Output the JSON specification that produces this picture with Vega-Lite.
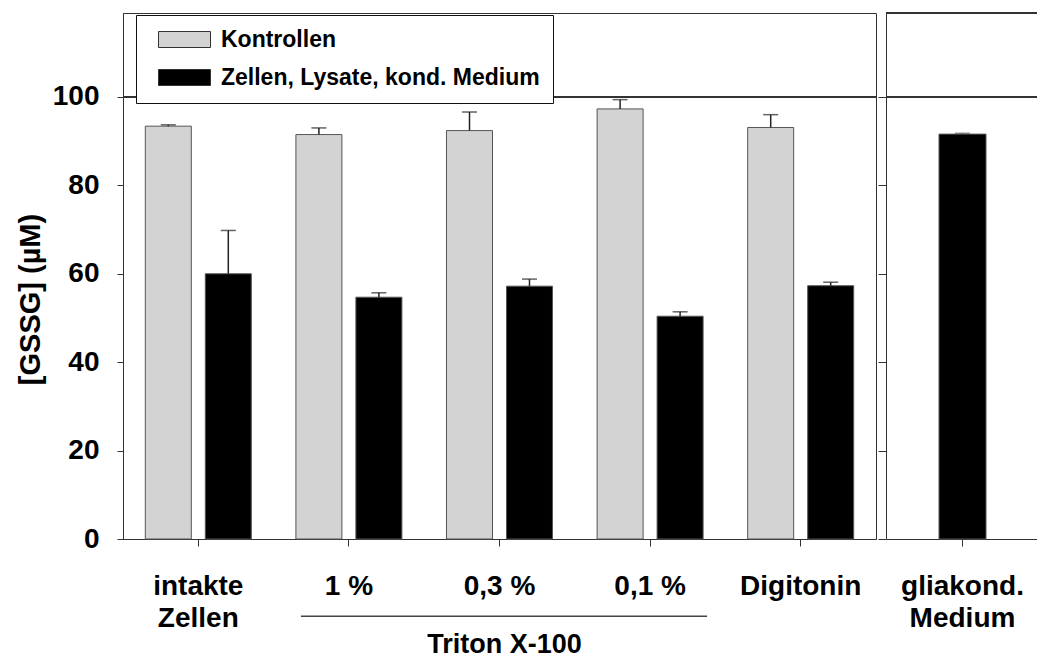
{
  "$schema": "https://vega.github.io/schema/vega-lite/v6.json",
  "padding": {"left": 16, "top": 12, "right": -3, "bottom": 0},
  "spacing": 0,
  "datasets": {
    "bars": [
      {"group": "intakte Zellen", "series": "Kontrollen", "value": 93.4, "upper": 93.7},
      {"group": "intakte Zellen", "series": "Zellen, Lysate, kond. Medium", "value": 60.0, "upper": 69.8},
      {"group": "1 %", "series": "Kontrollen", "value": 91.5, "upper": 93.0},
      {"group": "1 %", "series": "Zellen, Lysate, kond. Medium", "value": 54.7, "upper": 55.7},
      {"group": "0,3 %", "series": "Kontrollen", "value": 92.4, "upper": 96.6},
      {"group": "0,3 %", "series": "Zellen, Lysate, kond. Medium", "value": 57.2, "upper": 58.8},
      {"group": "0,1 %", "series": "Kontrollen", "value": 97.3, "upper": 99.4},
      {"group": "0,1 %", "series": "Zellen, Lysate, kond. Medium", "value": 50.4, "upper": 51.4},
      {"group": "Digitonin", "series": "Kontrollen", "value": 93.1, "upper": 96.0},
      {"group": "Digitonin", "series": "Zellen, Lysate, kond. Medium", "value": 57.3, "upper": 58.1},
      {"group": "gliakond. Medium", "series": "Zellen, Lysate, kond. Medium", "value": 91.6, "upper": 91.8}
    ],
    "bracket": [
      {"label": "Triton X-100", "from": "1 %", "to": "0,1 %", "mid": "0,3 %"}
    ]
  },
  "config": {
    "font": "Liberation Sans",
    "view": {"stroke": "#333", "strokeWidth": 1},
    "axis": {
      "labelFont": "Liberation Sans", "labelFontWeight": "bold", "labelColor": "black",
      "titleFont": "Liberation Sans", "titleFontWeight": "bold", "titleColor": "black",
      "domainColor": "#333", "tickColor": "#333", "grid": false
    }
  },
  "resolve": {"scale": {"color": "independent"}, "legend": {"color": "independent"}},
  "hconcat": [
    {
      "width": 753,
      "height": 526,
      "layer": [
        {
          "data": {"name": "bars"},
          "mark": {"type": "rule", "color": "#333", "strokeWidth": 1},
          "encoding": {"y": {"datum": 100, "type": "quantitative", "scale": {"domain": [0, 119], "nice": false}}}
        },
        {
          "data": {"name": "bars"},
          "transform": [{"filter": "datum.group != 'gliakond. Medium'"}],
          "mark": {"type": "bar", "stroke": "#555", "strokeWidth": 1},
          "encoding": {
            "x": {
              "field": "group", "type": "nominal",
              "scale": {"type": "band", "domain": ["intakte Zellen", "1 %", "0,3 %", "0,1 %", "Digitonin"], "paddingInner": 0, "paddingOuter": 0},
              "axis": {
                "title": null, "labelAngle": 0, "labelFontSize": 28, "labelLineHeight": 32,
                "tickSize": 7, "labelPadding": 26, "labelBaseline": "top", "bandPosition": 0.5,
                "labelExpr": "datum.value == 'intakte Zellen' ? ['intakte', 'Zellen'] : datum.label"
              }
            },
            "xOffset": {
              "field": "series", "type": "nominal",
              "scale": {"type": "band", "domain": ["Kontrollen", "Zellen, Lysate, kond. Medium"], "paddingInner": 0.2333, "paddingOuter": 0.3717}
            },
            "y": {
              "field": "value", "type": "quantitative",
              "scale": {"domain": [0, 119], "nice": false},
              "axis": {
                "values": [0, 20, 40, 60, 80, 100], "tickSize": 6, "labelFontSize": 28, "labelPadding": 18,
                "title": "[GSSG] (µM)", "titleFontSize": 29, "titleAngle": -90, "titleX": -83.5, "titleY": 286,
                "titleBaseline": "alphabetic", "titleAlign": "center"
              }
            },
            "color": {
              "field": "series", "type": "nominal",
              "scale": {"domain": ["Kontrollen", "Zellen, Lysate, kond. Medium"], "range": ["#d3d3d3", "#000000"]},
              "legend": {
                "title": null, "orient": "none", "legendX": 13, "legendY": 2,
                "fillColor": "white", "strokeColor": "#111", "padding": 13, "rowPadding": 14,
                "labelFontSize": 23, "labelFont": "Liberation Sans", "labelFontWeight": "bold", "labelColor": "black",
                "labelLimit": 600,
                "symbolType": "M-0.25,-1H6.25V1H-0.25Z", "symbolSize": 256,
                "symbolStrokeColor": "#333", "symbolStrokeWidth": 1, "symbolOpacity": 1, "labelOffset": 49
              }
            }
          }
        },
        {
          "data": {"name": "bars"},
          "transform": [{"filter": "datum.group != 'gliakond. Medium'"}],
          "mark": {"type": "rule", "color": "#222", "strokeWidth": 1.5},
          "encoding": {
            "x": {"field": "group", "type": "nominal"},
            "xOffset": {"field": "series", "type": "nominal"},
            "y": {"field": "value", "type": "quantitative"},
            "y2": {"field": "upper"}
          }
        },
        {
          "data": {"name": "bars"},
          "transform": [{"filter": "datum.group != 'gliakond. Medium'"}],
          "mark": {"type": "tick", "orient": "horizontal", "size": 15, "thickness": 1.5, "color": "#222"},
          "encoding": {
            "x": {"field": "group", "type": "nominal"},
            "xOffset": {"field": "series", "type": "nominal"},
            "y": {"field": "upper", "type": "quantitative"}
          }
        },
        {
          "data": {"name": "bracket"},
          "mark": {"type": "rule", "color": "#444", "strokeWidth": 1.5, "xOffset": -48, "x2Offset": 57},
          "encoding": {
            "x": {"field": "from", "type": "nominal"},
            "x2": {"field": "to"},
            "y": {"datum": -17.5, "type": "quantitative"}
          }
        },
        {
          "data": {"name": "bracket"},
          "mark": {"type": "text", "font": "Liberation Sans", "fontWeight": "bold", "fontSize": 27, "baseline": "alphabetic", "dx": 5, "color": "black"},
          "encoding": {
            "x": {"field": "mid", "type": "nominal"},
            "y": {"datum": -25.8, "type": "quantitative"},
            "text": {"field": "label"}
          }
        }
      ]
    },
    {
      "width": 153,
      "height": 526,
      "view": {"stroke": null},
      "layer": [
        {
          "data": {"name": "bars"},
          "mark": {"type": "rule", "color": "#333", "strokeWidth": 1},
          "encoding": {"y": {"datum": 119, "type": "quantitative", "scale": {"domain": [0, 119], "nice": false}}}
        },
        {
          "data": {"name": "bars"},
          "mark": {"type": "rule", "color": "#333", "strokeWidth": 1},
          "encoding": {"y": {"datum": 100, "type": "quantitative"}}
        },
        {
          "data": {"name": "bars"},
          "transform": [{"filter": "datum.group == 'gliakond. Medium'"}],
          "mark": {"type": "bar", "width": 47, "color": "#000000", "stroke": "#555", "strokeWidth": 1},
          "encoding": {
            "x": {
              "field": "group", "type": "nominal",
              "scale": {"type": "band", "domain": ["gliakond. Medium"], "paddingInner": 0, "paddingOuter": 0},
              "axis": {
                "title": null, "labelAngle": 0, "labelFontSize": 28, "labelLineHeight": 32,
                "tickSize": 7, "labelPadding": 26, "labelBaseline": "top", "bandPosition": 0.5,
                "labelExpr": "datum.value == 'gliakond. Medium' ? ['gliakond.', 'Medium'] : datum.label"
              }
            },
            "y": {
              "field": "value", "type": "quantitative",
              "scale": {"domain": [0, 119], "nice": false},
              "axis": {"values": [0, 20, 40, 60, 80, 100], "tickSize": 8, "labels": false, "title": null}
            }
          }
        },
        {
          "data": {"name": "bars"},
          "transform": [{"filter": "datum.group == 'gliakond. Medium'"}],
          "mark": {"type": "rule", "color": "#444", "strokeWidth": 1.5},
          "encoding": {
            "x": {"field": "group", "type": "nominal"},
            "y": {"field": "value", "type": "quantitative"},
            "y2": {"field": "upper"}
          }
        },
        {
          "data": {"name": "bars"},
          "transform": [{"filter": "datum.group == 'gliakond. Medium'"}],
          "mark": {"type": "tick", "orient": "horizontal", "size": 15, "thickness": 1.5, "color": "#666"},
          "encoding": {
            "x": {"field": "group", "type": "nominal"},
            "y": {"field": "upper", "type": "quantitative"}
          }
        }
      ]
    }
  ]
}
